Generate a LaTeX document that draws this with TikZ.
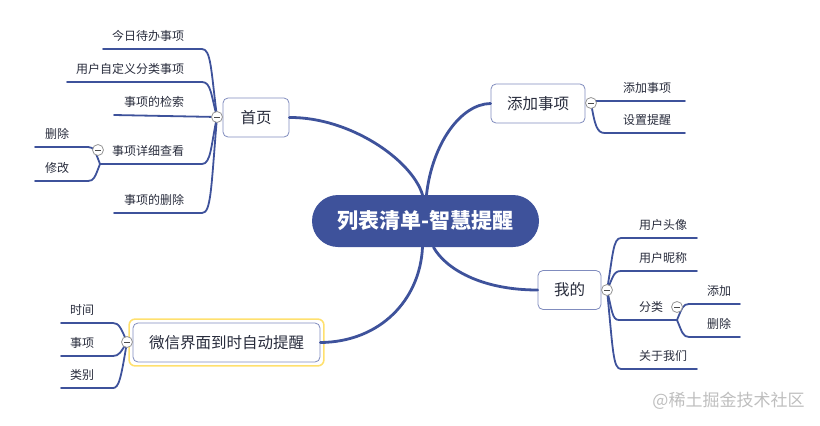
\documentclass[tikz,border=0pt]{standalone}
\usepackage{fontspec}
\setmainfont{Noto Sans CJK SC}
\definecolor{mapblue}{RGB}{62,82,155}
\definecolor{boxline}{RGB}{128,140,190}
\definecolor{labeltext}{RGB}{40,44,60}
\definecolor{foldgray}{RGB}{150,150,150}
\definecolor{markyellow}{RGB}{255,224,110}
\definecolor{marktext}{RGB}{190,190,190}
\tikzset{
  root/.style={fill=mapblue, text=white, rounded corners=26pt, minimum width=227pt, minimum height=52pt, inner sep=0pt, font=\fontsize{21}{24}\selectfont\bfseries},
  topic/.style={draw=boxline, fill=white, rounded corners=5pt, line width=0.8pt, minimum height=39pt, inner sep=0pt, text=labeltext, font=\fontsize{15.5}{18}\selectfont},
  leaf/.style={anchor=base west, inner sep=0pt, text=labeltext, font=\fontsize{12}{14}\selectfont},
  trunk/.style={draw=mapblue, line width=2.8pt, line cap=round},
  branch/.style={draw=mapblue, line width=1.8pt, line cap=round, line join=round},
  fold/.style={circle, draw=foldgray, fill=white, line width=0.8pt, minimum size=11pt, inner sep=0pt,
    path picture={\draw[black!70, line width=0.7pt] ([xshift=2.5pt]path picture bounding box.west) -- ([xshift=-2.5pt]path picture bounding box.east);}},
}
\begin{document}
\begin{tikzpicture}[x=1pt,y=-1pt]
\useasboundingbox (0,0) rectangle (820,426);
% main topics
\node[root] (root) at (425.5,221) {列表清单-智慧提醒};
\node[topic, minimum width=66pt] (home) at (256,117.5) {首页};
\node[topic, minimum width=94pt] (add) at (538,103.5) {添加事项};
\node[topic, minimum width=63pt] (mine) at (569.5,290) {我的};
\node[topic, minimum width=187pt] (wx) at (226.5,342.5) {微信界面到时自动提醒};
\draw[markyellow, line width=1.6pt, rounded corners=6pt] ([shift={(-3.5,-3.5)}]wx.north west) rectangle ([shift={(3.5,3.5)}]wx.south east);
\draw[trunk] ([xshift=-3pt]root.north) .. controls (412,160) and (350,117) .. (home.east);
\draw[trunk] ([xshift=1pt]root.north) .. controls (432,145) and (460,104) .. (add.west);
\draw[trunk] ([xshift=8pt]root.south) .. controls (445,268) and (480,290) .. (mine.west);
\draw[trunk] ([xshift=-3pt]root.south) .. controls (420,300) and (380,342) .. (wx.east);
% fold points
\coordinate (homefold) at (217,117);
\coordinate (addfold) at (591,103);
\coordinate (minefold) at (607,290);
\coordinate (wxfold) at (127,342);
\coordinate (viewfold) at (98,150);
\coordinate (sortfold) at (677,307);
% 首页
\node[leaf] (today) at (112,40.5) {今日待办事项};
\node[leaf] (custom) at (76,73.5) {用户自定义分类事项};
\node[leaf] (search) at (124,106.5) {事项的检索};
\node[leaf] (view) at (112,155.5) {事项详细查看};
\node[leaf] (remove) at (124,204.5) {事项的删除};
\node[leaf] (vdel) at (45,138.5) {删除};
\node[leaf] (vedit) at (45,172.5) {修改};
\coordinate (todayA) at (202,49); \coordinate (todayB) at (103,49);
\coordinate (customA) at (202,82); \coordinate (customB) at (67,82);
\coordinate (searchB) at (114,115);
\coordinate (viewA) at (202,164); \coordinate (viewB) at (100,164);
\coordinate (removeA) at (202,213); \coordinate (removeB) at (114,213);
\coordinate (vdelA) at (88,147); \coordinate (vdelB) at (35,147);
\coordinate (veditA) at (88,181); \coordinate (veditB) at (35,181);
\draw[branch] (homefold) .. controls (211,70) and (211,49) .. (todayA) -- (todayB);
\draw[branch] (homefold) .. controls (211,95) and (211,82) .. (customA) -- (customB);
\draw[branch] (homefold) -- (searchB);
\draw[branch] (homefold) .. controls (211,145) and (211,164) .. (viewA) -- (viewB);
\draw[branch] (homefold) .. controls (211,190) and (211,213) .. (removeA) -- (removeB);
\draw[branch] (viewB) .. controls (95,151) and (94,147) .. (vdelA) -- (vdelB);
\draw[branch] (viewB) .. controls (95,177) and (94,181) .. (veditA) -- (veditB);
% 添加事项
\node[leaf] (additem) at (623,92.5) {添加事项};
\node[leaf] (remind) at (623,124.5) {设置提醒};
\coordinate (additemA) at (598,101); \coordinate (additemB) at (685,101);
\coordinate (remindA) at (605,133); \coordinate (remindB) at (685,133);
\draw[branch] (addfold) .. controls (594,101) .. (additemA) -- (additemB);
\draw[branch] (addfold) .. controls (595,126) and (597,133) .. (remindA) -- (remindB);
% 我的
\node[leaf] (avatar) at (639,229.5) {用户头像};
\node[leaf] (nick) at (639,262.5) {用户昵称};
\node[leaf] (sort) at (639,311.5) {分类};
\node[leaf] (about) at (639,360.5) {关于我们};
\node[leaf] (sadd) at (707,295.5) {添加};
\node[leaf] (sdel) at (707,328.5) {删除};
\coordinate (avatarA) at (621,238); \coordinate (avatarB) at (697,238);
\coordinate (nickA) at (621,271); \coordinate (nickB) at (697,271);
\coordinate (sortA) at (619,320); \coordinate (sortB) at (677,320);
\coordinate (aboutA) at (621,369); \coordinate (aboutB) at (697,369);
\coordinate (saddA) at (689,304); \coordinate (saddB) at (740,304);
\coordinate (sdelA) at (689,337); \coordinate (sdelB) at (740,337);
\draw[branch] (minefold) .. controls (613,255) and (613,238) .. (avatarA) -- (avatarB);
\draw[branch] (minefold) .. controls (613,278) and (613,271) .. (nickA) -- (nickB);
\draw[branch] (minefold) .. controls (612,310) and (612,320) .. (sortA) -- (sortB);
\draw[branch] (minefold) .. controls (613,350) and (613,369) .. (aboutA) -- (aboutB);
\draw[branch] (sortB) .. controls (682,308) and (683,304) .. (saddA) -- (saddB);
\draw[branch] (sortB) .. controls (682,332) and (683,337) .. (sdelA) -- (sdelB);
% 微信
\node[leaf] (time) at (70,314.5) {时间};
\node[leaf] (item) at (70,347.5) {事项};
\node[leaf] (kind) at (70,379.5) {类别};
\coordinate (timeA) at (113,323); \coordinate (timeB) at (61,323);
\coordinate (itemA) at (113,356); \coordinate (itemB) at (61,356);
\coordinate (kindA) at (113,388); \coordinate (kindB) at (61,388);
\draw[branch] (wxfold) .. controls (121,328) and (119,323) .. (timeA) -- (timeB);
\draw[branch] (wxfold) .. controls (121,352) and (119,356) .. (itemA) -- (itemB);
\draw[branch] (wxfold) .. controls (121,378) and (119,388) .. (kindA) -- (kindB);
% fold marks
\node[fold] (homeminus) at (homefold) {};
\node[fold] (addminus) at (addfold) {};
\node[fold] (mineminus) at (minefold) {};
\node[fold] (wxminus) at (wxfold) {};
\node[fold] (viewminus) at (viewfold) {};
\node[fold] (sortminus) at (sortfold) {};
\node[text=marktext, font=\fontsize{17}{20}\selectfont] (mark) at (728.5,401) {@稀土掘金技术社区};
\end{tikzpicture}
\end{document}
